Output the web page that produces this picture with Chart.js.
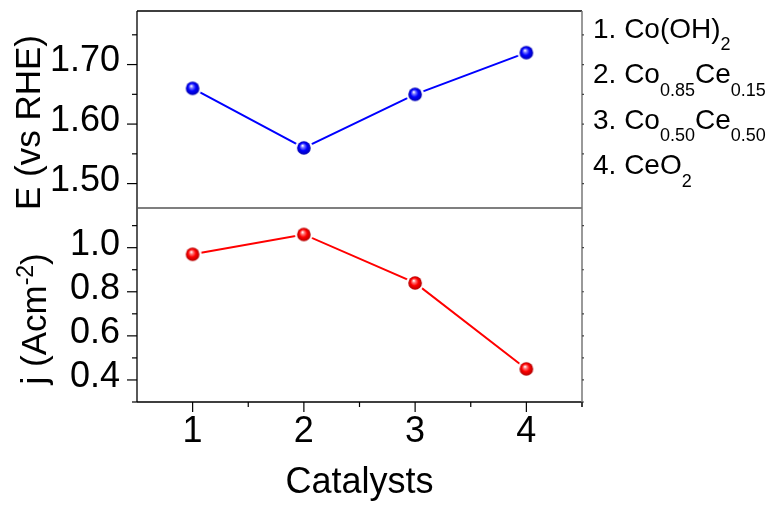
<!DOCTYPE html>
<html>
<head>
<meta charset="utf-8">
<script src="https://cdn.jsdelivr.net/npm/chart.js@4/dist/chart.umd.min.js"></script>
<style>
  html, body { margin: 0; padding: 0; background: #fff; }
  #myChart { display: block; }
</style>
</head>
<body>
<canvas id="myChart" width="771" height="505"></canvas>
<script>
// catalyst number on the x axis
const catalysts = [1, 2, 3, 4];
// potential, V vs RHE (upper panel)
const potential = [1.66, 1.56, 1.65, 1.72];
// current density, A cm^-2 (lower panel)
const current = [0.97, 1.06, 0.84, 0.45];

const potentialTicks = [1.50, 1.60, 1.70];
const currentTicks = [0.4, 0.6, 0.8, 1.0];
const catalystTicks = [1, 2, 3, 4];

// legend rows: [text, isSubscript]
const legendRows = [
  [['1. Co(OH)', 0], ['2', 1]],
  [['2. Co', 0], ['0.85', 1], ['Ce', 0], ['0.15', 1]],
  [['3. Co', 0], ['0.50', 1], ['Ce', 0], ['0.50', 1]],
  [['4. CeO', 0], ['2', 1]],
];

const FONT = '"Liberation Sans", Arial, sans-serif';

// shaded ball marker with a white halo so the line stops short of it
function sphere(light, color, dark) {
  const c = document.createElement('canvas');
  c.width = 20; c.height = 20;
  const g = c.getContext('2d');
  g.fillStyle = '#fff';
  g.beginPath(); g.arc(10, 10, 9, 0, Math.PI * 2); g.fill();
  const grad = g.createRadialGradient(8.6, 7.6, 0.3, 10, 10, 6.8);
  grad.addColorStop(0, '#ffffff');
  grad.addColorStop(0.22, light);
  grad.addColorStop(0.55, color);
  grad.addColorStop(1, dark);
  g.fillStyle = grad;
  g.beginPath(); g.arc(10, 10, 6.8, 0, Math.PI * 2); g.fill();
  return c;
}

function setTicks(values) {
  return (axis) => { axis.ticks = values.map(v => ({ value: v })); };
}

// fixed axis size, and no extra room reserved for overhanging labels
function fixSize(w, h) {
  return (s) => {
    if (w) s.width = w;
    if (h) s.height = h;
    s.paddingTop = s.paddingBottom = s.paddingLeft = s.paddingRight = 0;
  };
}

// major ticks plus the halfway minor ticks, limited to the scale range
function tickMarks(values, min, max) {
  const step = values[1] - values[0];
  const out = [];
  for (let v = values[0] - step; v <= values[values.length - 1] + step + 1e-9; v += step / 2) {
    const r = Math.round(v * 1000) / 1000;
    if (r < min - 1e-9 || r > max + 1e-9) continue;
    const major = values.some(m => Math.abs(m - r) < 1e-6);
    out.push({ v: r, major });
  }
  return out;
}

const framePlugin = {
  id: 'frame',
  afterDraw(chart) {
    const { ctx, chartArea: a, scales } = chart;
    const x = scales.x, yE = scales.yE, yJ = scales.yJ;
    const mid = yE.bottom;
    ctx.save();

    // panel borders
    ctx.lineWidth = 1.3;
    ctx.strokeStyle = '#000';
    ctx.beginPath();
    ctx.moveTo(a.left, a.top); ctx.lineTo(a.right, a.top);
    ctx.moveTo(a.left, a.top); ctx.lineTo(a.left, a.bottom);
    ctx.moveTo(a.left, a.bottom); ctx.lineTo(a.right, a.bottom);
    ctx.stroke();
    ctx.strokeStyle = '#555';
    ctx.beginPath();
    ctx.moveTo(a.left, mid); ctx.lineTo(a.right, mid);
    ctx.stroke();
    ctx.strokeStyle = '#777';
    ctx.lineWidth = 1.5;
    ctx.beginPath();
    ctx.moveTo(a.right, a.top); ctx.lineTo(a.right, a.bottom + 5);
    ctx.stroke();

    // left ticks (outward) and small right ticks
    ctx.lineWidth = 1.2;
    [[yE, potentialTicks], [yJ, currentTicks]].forEach(([s, vals]) => {
      tickMarks(vals, s.min, s.max).forEach(t => {
        const p = s.getPixelForValue(t.v);
        ctx.strokeStyle = '#000';
        ctx.beginPath();
        ctx.moveTo(a.left, p); ctx.lineTo(a.left - (t.major ? 10 : 5), p);
        ctx.stroke();
        ctx.strokeStyle = '#444';
        ctx.beginPath();
        ctx.moveTo(a.right, p); ctx.lineTo(a.right + 2, p);
        ctx.stroke();
      });
    });

    // bottom ticks (outward)
    ctx.strokeStyle = '#000';
    tickMarks(catalystTicks, x.min, x.max).forEach(t => {
      if (t.v <= x.min) return;
      const p = x.getPixelForValue(t.v);
      ctx.beginPath();
      ctx.moveTo(p, a.bottom); ctx.lineTo(p, a.bottom + (t.major ? 10 : 5));
      ctx.stroke();
    });

    // y titles
    ctx.fillStyle = '#000';
    ctx.textBaseline = 'alphabetic';
    ctx.save();
    ctx.translate(40, 122.5);
    ctx.rotate(-Math.PI / 2);
    ctx.textAlign = 'center';
    ctx.font = '35px ' + FONT;
    ctx.fillText('E (vs RHE)', 0, 0);
    ctx.restore();

    ctx.save();
    ctx.translate(46, 384.5);
    ctx.rotate(-Math.PI / 2);
    ctx.textAlign = 'left';
    let cx = 0;
    ctx.font = '35px ' + FONT;
    ctx.fillText('j (Acm', cx, 0); cx += ctx.measureText('j (Acm').width;
    ctx.font = '23px ' + FONT;
    ctx.fillText('-2', cx, -13); cx += ctx.measureText('-2').width;
    ctx.font = '35px ' + FONT;
    ctx.fillText(')', cx, 0);
    ctx.restore();

    // catalyst key on the right
    ctx.textAlign = 'left';
    legendRows.forEach((row, i) => {
      const base = 37.5 + i * 45.5;
      let lx = 593;
      row.forEach(([txt, sub]) => {
        ctx.font = (sub ? '18px ' : '28px ') + FONT;
        ctx.fillText(txt, lx, sub ? base + 12.5 : base);
        lx += ctx.measureText(txt).width;
      });
    });
    ctx.restore();
  }
};

const tickFont = { family: FONT, size: 36 };

const config = {
  type: 'line',
  data: {
    datasets: [
      {
        label: 'E',
        data: catalysts.map((c, i) => ({ x: c, y: potential[i] })),
        yAxisID: 'yE',
        borderColor: '#0000ff',
        borderWidth: 2,
        pointStyle: sphere('#7a7aff', '#0000ff', '#0000b0'),
        pointRadius: 7,
        clip: false,
      },
      {
        label: 'j',
        data: catalysts.map((c, i) => ({ x: c, y: current[i] })),
        yAxisID: 'yJ',
        borderColor: '#ff0000',
        borderWidth: 2,
        pointStyle: sphere('#ff7a7a', '#ff0000', '#b00000'),
        pointRadius: 7,
        clip: false,
      },
    ],
  },
  options: {
    responsive: false,
    animation: false,
    layout: { padding: { left: 0, top: 11, right: 189, bottom: 0 } },
    plugins: {
      legend: { display: false },
      tooltip: { enabled: false },
    },
    scales: {
      x: {
        type: 'linear',
        min: 0.5,
        max: 4.5,
        afterBuildTicks: setTicks(catalystTicks),
        afterFit: fixSize(0, 103),
        grid: { display: false, drawTicks: false },
        border: { display: false },
        ticks: {
          font: tickFont, color: '#000', padding: 8,
          maxRotation: 0, autoSkip: false,
          callback: (v) => String(v),
        },
        title: {
          display: true, text: 'Catalysts', color: '#000',
          font: { family: FONT, size: 36 },
          padding: { top: 0, bottom: 0 },
        },
      },
      yJ: {
        type: 'linear',
        position: 'left',
        stack: 'panels',
        stackWeight: 194,
        min: 0.3,
        max: 1.18,
        afterBuildTicks: setTicks(currentTicks),
        afterFit: fixSize(137, 0),
        grid: { display: false, drawTicks: false },
        border: { display: false },
        ticks: {
          font: tickFont, color: '#000', padding: 17, labelOffset: -3,
          autoSkip: false,
          callback: (v) => v.toFixed(1),
        },
      },
      yE: {
        type: 'linear',
        position: 'left',
        stack: 'panels',
        stackWeight: 197,
        min: 1.459,
        max: 1.79,
        afterBuildTicks: setTicks(potentialTicks),
        afterFit: fixSize(137, 0),
        grid: { display: false, drawTicks: false },
        border: { display: false },
        ticks: {
          font: tickFont, color: '#000', padding: 17, labelOffset: -3,
          autoSkip: false,
          callback: (v) => v.toFixed(2),
        },
      },
    },
  },
  plugins: [framePlugin],
};

window.onload = function () {
  const ctx = document.getElementById('myChart');
  new Chart(ctx, config);
};
</script>
</body>
</html>
